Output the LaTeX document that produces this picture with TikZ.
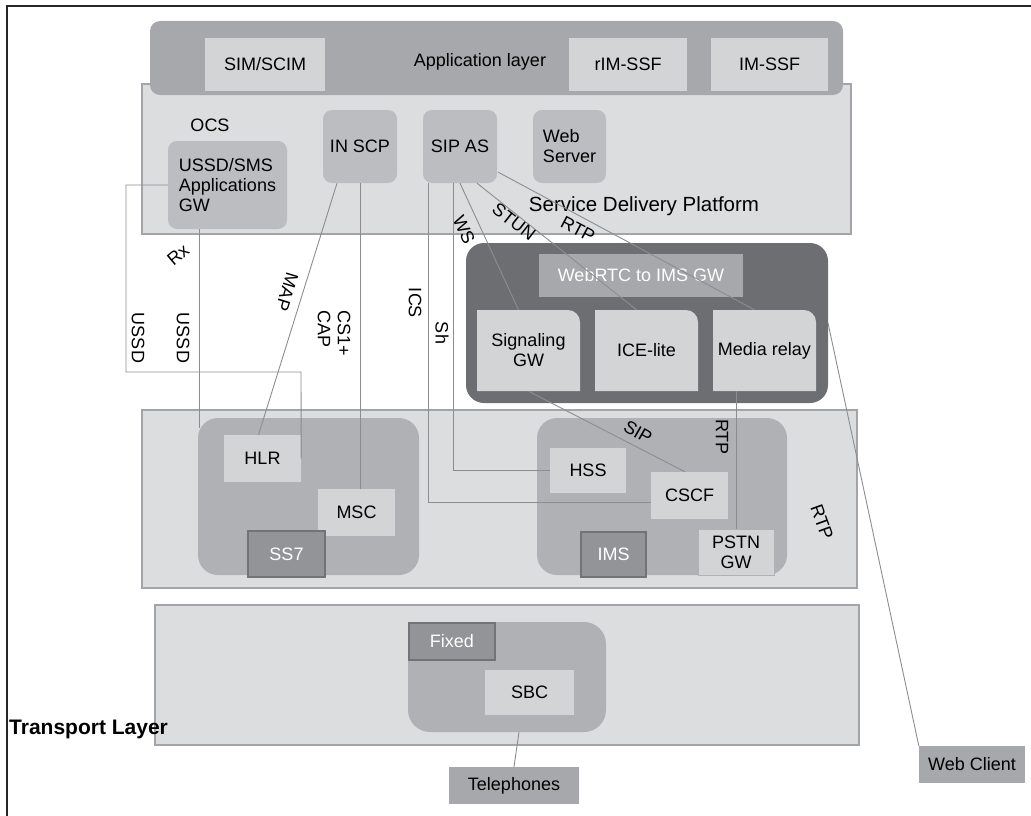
\documentclass[tikz,border=0pt]{standalone}
\usepackage{fontspec}
\setmainfont{Liberation Sans}
\usepackage{tikz}
\usetikzlibrary{calc,positioning}
\definecolor{bandbg}{HTML}{DCDDDF}
\definecolor{bandln}{HTML}{A3A4A7}
\definecolor{appbg}{HTML}{A7A8AB}
\definecolor{litebox}{HTML}{D3D4D6}
\definecolor{midbox}{HTML}{BCBDC0}
\definecolor{grpbg}{HTML}{B0B1B4}
\definecolor{gwbg}{HTML}{6D6E71}
\definecolor{tagbg}{HTML}{939497}
\definecolor{tagln}{HTML}{727376}
\definecolor{linec}{HTML}{8C8D90}
\newcommand{\lbl}{\fontsize{18}{20}\selectfont}
\tikzset{
  band/.style={draw=bandln,fill=bandbg,line width=1.2pt},
  applay/.style={fill=appbg,rounded corners=10pt},
  lbox/.style={fill=litebox,inner sep=2pt,align=center,font=\lbl},
  rbox/.style={fill=midbox,rounded corners=9pt,inner sep=2pt,align=center,font=\lbl},
  grp/.style={fill=grpbg,rounded corners=20pt},
  tagbox/.style={fill=tagbg,draw=tagln,line width=1.5pt,text=white,font=\lbl},
  ln/.style={draw=linec,line width=0.9pt},
  lab/.style={font=\lbl,inner sep=1pt}
}

\begin{document}
\begin{tikzpicture}[x=1pt,y=-1pt]
\useasboundingbox (0,0) rectangle (1031,816);
\draw[line width=1.5pt,black!85] (7,816) -- (7,6) -- (1031,6);

% service delivery platform and application layer
\draw[band] (142,84) rectangle (851,234);
\fill[applay] (150,21) rectangle (843,95);
\node[lbox,minimum width=120pt,minimum height=53pt] (sim) at (265,64.5) {SIM/SCIM};
\node[lab] (applbl) at (480,62) {Application layer};
\node[lbox,minimum width=118pt,minimum height=53pt] (rimssf) at (628,64.5) {rIM-SSF};
\node[lbox,minimum width=117pt,minimum height=53pt] (imssf) at (769.5,64.5) {IM-SSF};
\node[lab] (ocs) at (210,125) {OCS};
\node[rbox,minimum width=119pt,minimum height=88pt,align=left] (ussd) at (227.5,185) {USSD/SMS\\Applications\\GW};
\node[rbox,minimum width=74pt,minimum height=73pt] (inscp) at (360,146.5) {IN SCP};
\node[rbox,minimum width=74pt,minimum height=73pt] (sipas) at (460,146.5) {SIP AS};
\node[rbox,minimum width=73pt,minimum height=73pt,align=left] (websrv) at (569.5,146.5) {Web\\Server};
\node[lab,font=\fontsize{20.5}{23}\selectfont] (sdp) at (644,206) {Service Delivery Platform};

% webrtc gateway
\fill[gwbg,rounded corners=18pt] (466,243) rectangle (828,403);
\coordinate (gweast) at (828,323);
\node[fill=appbg,minimum width=204pt,minimum height=43pt,text=white,font=\lbl] (gwlbl) at (641,275.5) {WebRTC to IMS GW};
\fill[litebox] (477,391) -- (477,310) [rounded corners=12pt] -- (580,310) [sharp corners] -- (580,391) -- cycle;
\fill[litebox] (595,391) -- (595,310) [rounded corners=12pt] -- (698,310) [sharp corners] -- (698,391) -- cycle;
\fill[litebox] (713,391) -- (713,310) [rounded corners=12pt] -- (816,310) [sharp corners] -- (816,391) -- cycle;
\node[lab,minimum width=103pt,minimum height=81pt,align=center] (siggw) at (528.5,350.5) {Signaling\\GW};
\node[lab,minimum width=103pt,minimum height=81pt] (icelite) at (646.5,350.5) {ICE-lite};
\node[lab,minimum width=103pt,minimum height=81pt] (mrelay) at (764.5,350.5) {Media relay};

% core networks
\draw[band] (142,410) rectangle (857,588);
\fill[grp] (198,418) rectangle (419,575);
\node[lbox,minimum width=77pt,minimum height=47pt] (hlr) at (262.5,458.5) {HLR};
\node[lbox,minimum width=77pt,minimum height=47pt] (msc) at (356.5,512.5) {MSC};
\node[tagbox,minimum width=77pt,minimum height=46pt] (ss7) at (286.5,554) {SS7};
\fill[grp] (537,418) rectangle (787,575);
\node[lbox,minimum width=76pt,minimum height=45pt] (hss) at (588,470.5) {HSS};
\node[lbox,minimum width=77pt,minimum height=47pt] (cscf) at (689.5,495.5) {CSCF};
\node[tagbox,minimum width=65pt,minimum height=45pt] (ims) at (613.5,554.5) {IMS};
\node[lbox,draw=grpbg,line width=0.8pt,minimum width=76pt,minimum height=46pt,inner sep=1pt] (pstn) at (736,552) {PSTN\\GW};

% transport layer
\draw[band] (155,605) rectangle (859,745);
\fill[grp,rounded corners=22pt] (408,622) rectangle (606,732);
\coordinate (fixbot) at (519,732);
\node[tagbox,minimum width=86pt,minimum height=37pt] (fixed) at (452,641.5) {Fixed};
\node[lbox,minimum width=89pt,minimum height=45pt] (sbc) at (529.5,692.5) {SBC};
\node[anchor=west,inner sep=0pt,font=\bfseries\fontsize{21}{24}\selectfont] (tlayer) at (9,729) {Transport Layer};
\node[fill=appbg,minimum width=130pt,minimum height=37pt,font=\lbl] (tel) at (514,785.5) {Telephones};
\node[fill=appbg,minimum width=106pt,minimum height=37pt,font=\lbl] (wclient) at (972,764.5) {Web Client};

% connectors
\coordinate (ua) at (126,372);
\coordinate (ub) at (301,372);
\draw[ln] (ussd.west) -| (ua) -- (ub) -- (hlr.east);
\draw[ln] ($(ussd.south)+(-28.5,0)$) -- (199,428);
\draw[ln] ($(inscp.south)+(-23,0)$) -- ($(hlr.north)+(-4,0)$);
\draw[ln] (inscp.south) -- (inscp.south |- msc.north);
\draw[ln] ($(sipas.south)+(-32,0)$) |- ($(cscf.west)+(0,7)$);
\draw[ln] ($(sipas.south)+(-7,0)$) |- (hss.west);
\draw[ln] (sipas.south) -- ($(siggw.north)+(-10,0)$);
\draw[ln] ($(sipas.south)+(17,0)$) -- ($(icelite.north)+(-10,0)$);
\draw[ln] ($(sipas.south east)+(1,-11)$) -- ($(mrelay.north)+(-10,0)$);
\draw[ln] (siggw.south) -- ($(cscf.north)+(-4.5,0)$);
\draw[ln] (pstn.north |- mrelay.south) -- (pstn.north);
\draw[ln] (gweast) -- (wclient.north west);
\draw[ln] (fixbot) -- (tel.north);

% connector labels
\node[lab,rotate=40] (rx) at (178,255) {Rx};
\node[lab,rotate=-90] (ussda) at (138,338) {USSD};
\node[lab,rotate=-90] (ussdb) at (183,338) {USSD};
\node[lab,rotate=-107] (map) at (287,292) {MAP};
\node[lab,rotate=-90,align=left] (cap) at (334,333) {CS1+\\CAP};
\node[lab,rotate=-90] (ics) at (415,303) {ICS};
\node[lab,rotate=-90] (sh) at (442,333) {Sh};
\node[lab,rotate=-65] (ws) at (464,230) {WS};
\node[lab,rotate=-38] (stun) at (514,222) {STUN};
\node[lab,rotate=-28] (rtpa) at (578,229) {RTP};
\node[lab,rotate=-30] (sip) at (638,432) {SIP};
\node[lab,rotate=-90] (rtpb) at (722,437) {RTP};
\node[lab,rotate=-70] (rtpc) at (822,522) {RTP};
\end{tikzpicture}
\end{document}
